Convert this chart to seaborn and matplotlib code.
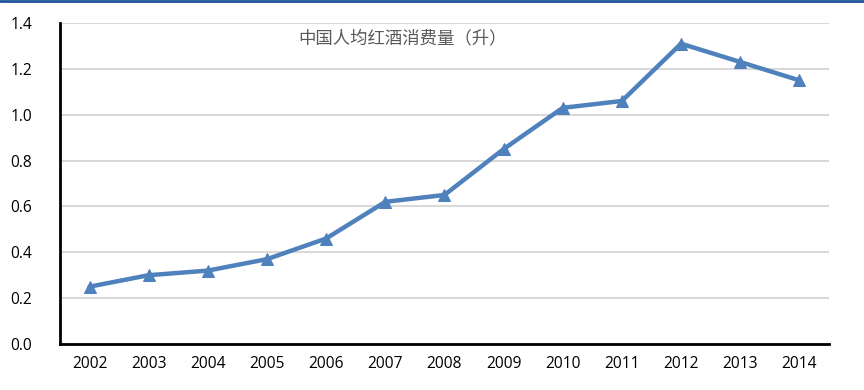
import pandas as pd
import matplotlib.pyplot as plt
import seaborn as sns

# Data
years = ['2002', '2003', '2004', '2005', '2006', '2007', '2008',
         '2009', '2010', '2011', '2012', '2013', '2014']
consumption = [0.25, 0.30, 0.32, 0.37, 0.46, 0.62, 0.65,
               0.85, 1.03, 1.06, 1.31, 1.23, 1.15]
title = "中国人均红酒消费量（升）"

df = pd.DataFrame({'year': years, 'value': consumption})

sns.set_style("white")
plt.rcParams['font.family'] = ['Open Sans', 'Noto Sans CJK SC', 'DejaVu Sans']

fig = plt.figure(figsize=(8.64, 3.9), dpi=100)
ax = fig.add_axes([0.0694, 0.118, 0.89, 0.823])

sns.lineplot(data=df, x='year', y='value', ax=ax, color='#4F81BD',
             linewidth=3.2, marker='^', markersize=9,
             markeredgecolor='#4F81BD', sort=False)

ax.set_xlim(-0.5, len(years) - 0.5)
ax.set_ylim(0, 1.4)
ax.set_yticks([0.0, 0.2, 0.4, 0.6, 0.8, 1.0, 1.2, 1.4])
ax.set_yticklabels([f"{v:.1f}" for v in ax.get_yticks()])
ax.yaxis.grid(True, color='#D9D9D9', linewidth=1.5)
ax.set_axisbelow(True)
ax.set_xlabel('')
ax.set_ylabel('')
ax.tick_params(axis='both', length=0, labelsize=11.2, colors='#000000')
ax.tick_params(axis='x', pad=9)
ax.tick_params(axis='y', pad=20)
for lbl in ax.get_yticklabels():
    lbl.set_horizontalalignment('right')

for side in ['top', 'right']:
    ax.spines[side].set_visible(False)
for side in ['left', 'bottom']:
    ax.spines[side].set_color('#000000')
    ax.spines[side].set_linewidth(2)

ax.text(0.445, 0.953, title, transform=ax.transAxes, ha='center', va='center',
        fontsize=12.5, color='#595959',
        family=['Noto Sans CJK SC', 'DejaVu Sans'])

# thin blue border line at the very top of the image
fig.add_artist(plt.Line2D([0, 1], [0.997, 0.997], color='#1F5499',
                          linewidth=2, transform=fig.transFigure))

fig.savefig('out.png', dpi=100)
